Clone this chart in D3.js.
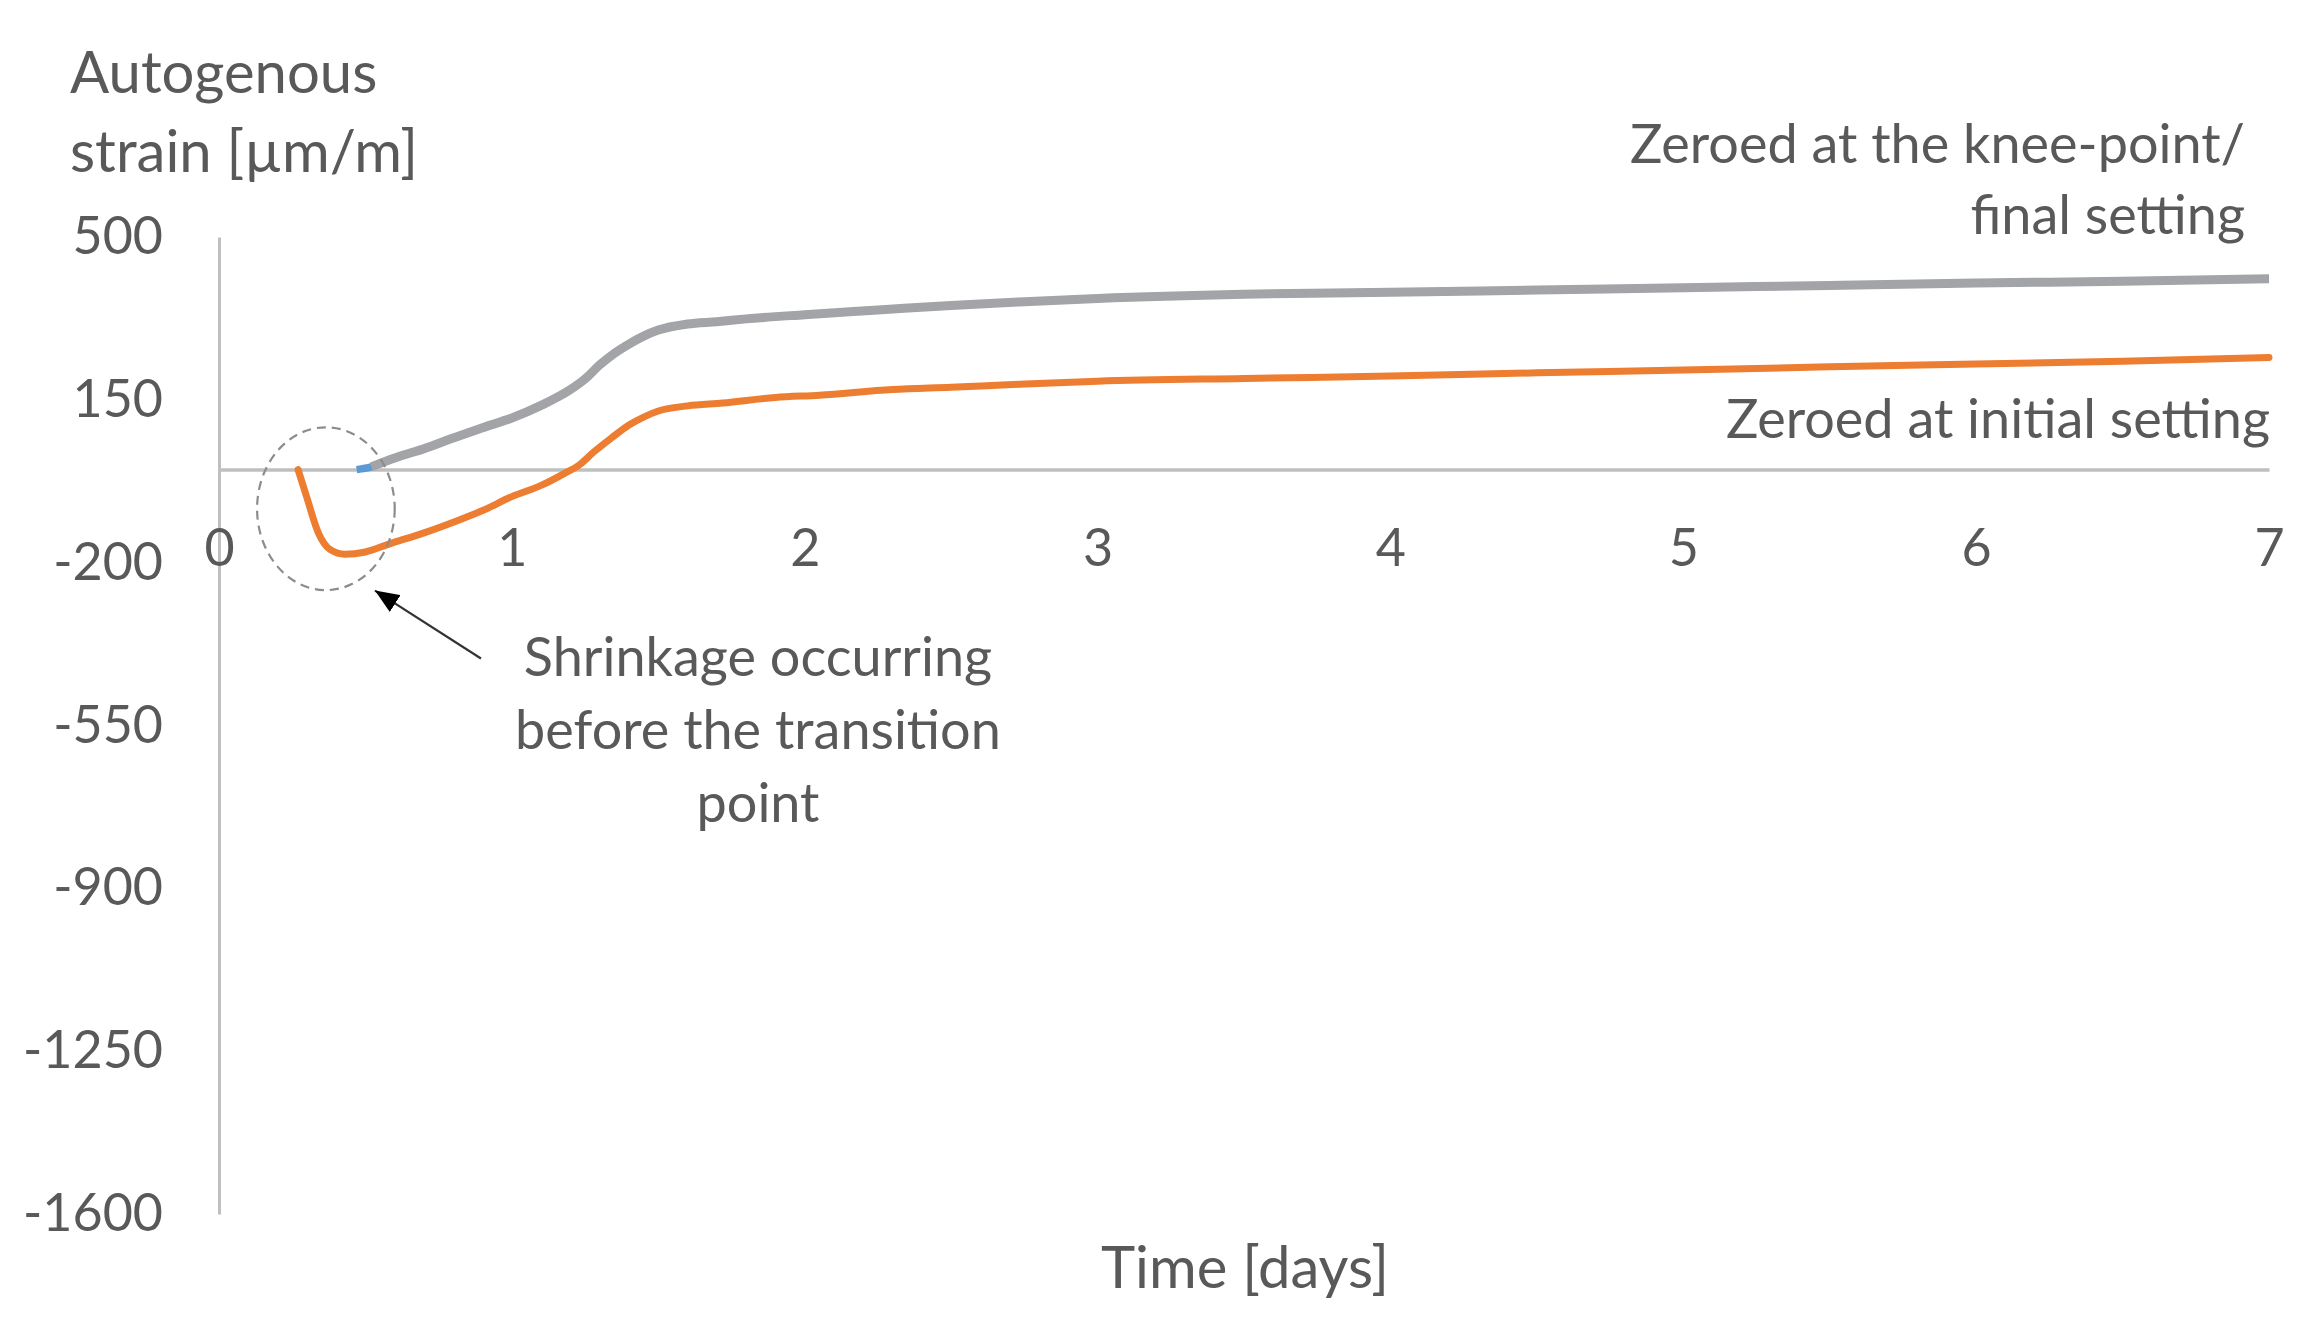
<!DOCTYPE html>
<html>
<head>
<meta charset="utf-8">
<script src="https://cdn.jsdelivr.net/npm/d3@7"></script>
<style>
  html, body { margin: 0; padding: 0; background: #fff; }
  text { font-family: Lato, "Open Sans", sans-serif; fill: #595959; }
</style>
</head>
<body>
<svg id="chart" width="2322" height="1319"></svg>
<script>
// ---- data ----
const xTicks = [0, 1, 2, 3, 4, 5, 6, 7];
const yTicks = [500, 150, -200, -550, -900, -1250, -1600];

// Zeroed at the knee-point / final setting (blue series, overlaid by grey)
const kneeDays   = [0.47, 0.52, 0.60, 0.70, 0.80, 0.90, 1.00, 1.10, 1.20, 1.25, 1.30, 1.35, 1.40, 1.45, 1.50, 1.60, 1.70, 1.80, 2.00, 2.25, 2.50, 2.75, 3.00, 3.50, 4.00, 4.50, 5.00, 5.50, 6.00, 6.50, 7.00];
const kneeStrain = [0,    6,    25,   45,   68,   90,   111,  138,  172,  195,  225,  250,  270,  287,  300,  313,  318,  324,  333,  343,  353,  361,  368,  377,  381,  386,  391,  396,  401,  405,  410];

// Zeroed at initial setting (orange series)
const initDays   = [0.27, 0.30, 0.34, 0.38, 0.43, 0.50, 0.58, 0.70, 0.80, 0.90, 1.00, 1.10, 1.18, 1.23, 1.28, 1.34, 1.40, 1.45, 1.50, 1.60, 1.72, 1.90, 2.05, 2.30, 2.50, 2.75, 3.00, 3.50, 4.00, 4.50, 5.00, 5.50, 6.00, 6.50, 7.00];
const initStrain = [0,    -60,  -137, -172, -182, -177, -160, -136, -113, -88,  -58,  -34,  -8,   10,   38,   68,   96,   113,  126,  137,  143,  155,  160,  172,  177,  184,  190,  196,  201,  208,  214,  221,  227,  233,  241];

const yTitleLines = ["Autogenous", "strain [µm/m]"];
const xTitle = "Time [days]";
const kneeLabel = ["Zeroed at the knee-point/", "final setting"];
const initLabel = "Zeroed at initial setting";
const noteLines = ["Shrinkage occurring", "before the transition", "point"];

// ---- chart ----
const svg = d3.select("#chart");
const x = d3.scaleLinear().domain([0, 7]).range([219, 2269]);
const y = d3.scaleLinear().domain([-1600, 500]).range([1214, 237]);
const plainFmt = d => String(d);

// y axis
const yAxis = svg.append("g").attr("transform", `translate(${x(0)},0)`)
  .call(d3.axisLeft(y).tickValues(yTicks).tickSize(0).tickSizeOuter(0).tickPadding(56).tickFormat(plainFmt));
yAxis.select(".domain").attr("stroke", "#bfbfbf").attr("stroke-width", 3);
yAxis.selectAll("text").attr("font-size", 52).attr("font-family", "Lato").attr("fill", "#595959");

// x axis at zero
const xAxis = svg.append("g").attr("transform", `translate(0,${y(0)})`)
  .call(d3.axisBottom(x).tickValues(xTicks).tickSize(0).tickSizeOuter(0).tickPadding(59).tickFormat(plainFmt));
xAxis.select(".domain").attr("stroke", "#bfbfbf").attr("stroke-width", 3.5);
xAxis.selectAll("text").attr("font-size", 52).attr("font-family", "Lato").attr("fill", "#595959");

// lines
const line = d3.line().x(d => x(d[0])).y(d => y(d[1])).curve(d3.curveMonotoneX);
const kneeData = kneeDays.map((d, i) => [d, kneeStrain[i]]);
const initData = initDays.map((d, i) => [d, initStrain[i]]);

svg.append("path").datum(kneeData).attr("d", line)
  .attr("fill", "none").attr("stroke", "#5b9bd5").attr("stroke-width", 7.5).attr("stroke-linejoin", "round");
svg.append("path").datum(kneeData.slice(1)).attr("d", line)
  .attr("fill", "none").attr("stroke", "#a2a4a8").attr("stroke-width", 9).attr("stroke-linejoin", "round");
svg.append("path").datum(initData).attr("d", line)
  .attr("fill", "none").attr("stroke", "#ed7d31").attr("stroke-width", 7).attr("stroke-linejoin", "round").attr("stroke-linecap", "round");

// annotation ellipse (data coords)
const ell = { cx: 0.365, cy: -84, rx: 0.235, ry: 175 };
svg.append("ellipse")
  .attr("cx", x(ell.cx)).attr("cy", y(ell.cy))
  .attr("rx", x(ell.cx + ell.rx) - x(ell.cx))
  .attr("ry", y(ell.cy - ell.ry) - y(ell.cy))
  .attr("fill", "none").attr("stroke", "#8c8c8c").attr("stroke-width", 2.2).attr("stroke-dasharray", "9,6");

// arrow
svg.append("defs").append("marker")
  .attr("id", "arrow").attr("markerUnits", "userSpaceOnUse")
  .attr("markerWidth", 24).attr("markerHeight", 20)
  .attr("refX", 24).attr("refY", 10).attr("orient", "auto")
  .append("path").attr("d", "M0,0 L24,10 L0,20 Z").attr("fill", "#000");
const arrowFrom = [0.8945, -406], arrowTo = [0.5326, -260];
svg.append("line")
  .attr("x1", x(arrowFrom[0])).attr("y1", y(arrowFrom[1]))
  .attr("x2", x(arrowTo[0])).attr("y2", y(arrowTo[1]))
  .attr("stroke", "#333").attr("stroke-width", 2.2).attr("marker-end", "url(#arrow)");

// note text
svg.append("text").attr("x", 758).attr("y", 676).attr("text-anchor", "middle").attr("font-size", 54)
  .selectAll("tspan").data(noteLines).join("tspan")
  .attr("x", 758).attr("dy", (d, i) => i === 0 ? 0 : 73).text(d => d);

// y title
svg.append("text").attr("x", 70).attr("y", 93).attr("font-size", 58)
  .selectAll("tspan").data(yTitleLines).join("tspan")
  .attr("x", 70).attr("dy", (d, i) => i === 0 ? 0 : 79).text(d => d);

// x title
svg.append("text").attr("x", 1245).attr("y", 1288).attr("text-anchor", "middle").attr("font-size", 58).text(xTitle);

// series labels
svg.append("text").attr("x", 2245).attr("y", 163).attr("text-anchor", "end").attr("font-size", 54)
  .selectAll("tspan").data(kneeLabel).join("tspan")
  .attr("x", 2245).attr("dy", (d, i) => i === 0 ? 0 : 71).text(d => d);
svg.append("text").attr("x", 2270).attr("y", 438).attr("text-anchor", "end").attr("font-size", 54).text(initLabel);
</script>
</body>
</html>
